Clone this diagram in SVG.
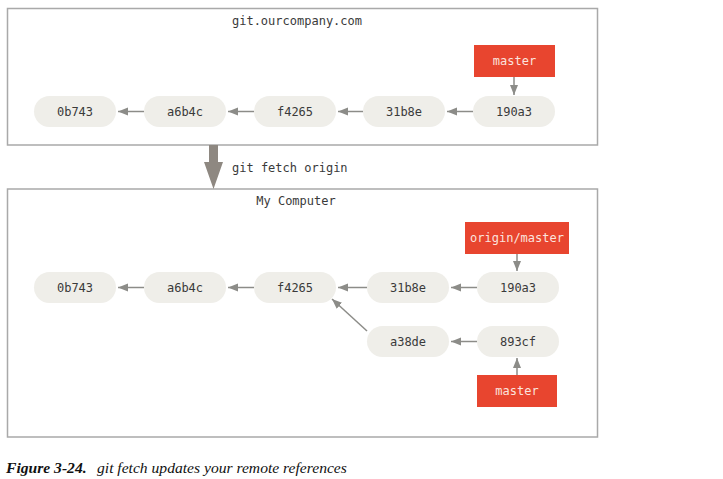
<svg xmlns="http://www.w3.org/2000/svg" width="723" height="479" viewBox="0 0 723 479">
<defs>
<style>
.frame{fill:#fff;stroke:#a9a9a9;stroke-width:1.5}
.commit rect{fill:#efeee9}
.commit text,.lbl{font-family:"DejaVu Sans Mono","Liberation Mono",monospace;font-size:12px;fill:#3a3a3a;text-anchor:middle}
.ref rect{fill:#e8452f}
.ref text{font-family:"DejaVu Sans Mono","Liberation Mono",monospace;font-size:12px;fill:#fbe3de;text-anchor:middle}
.conn line{stroke:#8c8c88;stroke-width:1.5;marker-end:url(#ah)}
.cap{font-family:"Liberation Serif","Times New Roman",serif;font-size:15.6px;font-style:italic;fill:#111}
</style>
<marker id="ah" markerUnits="userSpaceOnUse" markerWidth="11" markerHeight="9" refX="10" refY="4" orient="auto">
<path d="M0,0 L10,4 L0,8 z" fill="#8c8c88"/>
</marker>
</defs>
<rect width="723" height="479" fill="#fff"/>

<g id="remote">
<rect class="frame" x="7.5" y="8.5" width="590" height="136.5"/>
<text class="lbl" x="297" y="25">git.ourcompany.com</text>
</g>
<g id="local">
<rect class="frame" x="7.5" y="189" width="590" height="248"/>
<text class="lbl" x="296" y="205">My Computer</text>
</g>

<g id="fetch-arrow">
<polygon points="209,145 218,145 218,162 223,162 213.5,189 204,162 209,162" fill="#8e8881"/>
<text class="lbl" x="232" y="172" style="text-anchor:start">git fetch origin</text>
</g>

<g id="r-0b743" class="commit"><rect x="34" y="96" width="82" height="31" rx="15.5"/><text x="75" y="115.5">0b743</text></g>
<g id="r-a6b4c" class="commit"><rect x="144" y="96" width="82" height="31" rx="15.5"/><text x="185" y="115.5">a6b4c</text></g>
<g id="r-f4265" class="commit"><rect x="254" y="96" width="82" height="31" rx="15.5"/><text x="295" y="115.5">f4265</text></g>
<g id="r-31b8e" class="commit"><rect x="363" y="96" width="82" height="31" rx="15.5"/><text x="404" y="115.5">31b8e</text></g>
<g id="r-190a3" class="commit"><rect x="473" y="96" width="82" height="31" rx="15.5"/><text x="514" y="115.5">190a3</text></g>
<g id="r-master" class="ref"><rect x="474" y="45" width="81" height="32"/><text x="514.5" y="65">master</text></g>

<g id="l-0b743" class="commit"><rect x="34" y="272" width="82" height="31" rx="15.5"/><text x="75" y="291.5">0b743</text></g>
<g id="l-a6b4c" class="commit"><rect x="144" y="272" width="82" height="31" rx="15.5"/><text x="185" y="291.5">a6b4c</text></g>
<g id="l-f4265" class="commit"><rect x="254" y="272" width="82" height="31" rx="15.5"/><text x="295" y="291.5">f4265</text></g>
<g id="l-31b8e" class="commit"><rect x="367" y="272" width="82" height="31" rx="15.5"/><text x="408" y="291.5">31b8e</text></g>
<g id="l-190a3" class="commit"><rect x="477" y="272" width="82" height="31" rx="15.5"/><text x="518" y="291.5">190a3</text></g>
<g id="l-a38de" class="commit"><rect x="367" y="326" width="82" height="31" rx="15.5"/><text x="408" y="345.5">a38de</text></g>
<g id="l-893cf" class="commit"><rect x="477" y="326" width="82" height="31" rx="15.5"/><text x="518" y="345.5">893cf</text></g>
<g id="l-origin-master" class="ref"><rect x="465" y="222" width="104" height="32"/><text x="517" y="242">origin/master</text></g>
<g id="l-master" class="ref"><rect x="477" y="375" width="80" height="32"/><text x="517" y="395">master</text></g>

<g id="connectors" class="conn">
<line x1="144" y1="111.5" x2="118" y2="111.5"/>
<line x1="254" y1="111.5" x2="228" y2="111.5"/>
<line x1="363" y1="111.5" x2="338" y2="111.5"/>
<line x1="473" y1="111.5" x2="447" y2="111.5"/>
<line x1="514" y1="77" x2="514" y2="95"/>

<line x1="144" y1="287.5" x2="118" y2="287.5"/>
<line x1="254" y1="287.5" x2="228" y2="287.5"/>
<line x1="367" y1="287.5" x2="338" y2="287.5"/>
<line x1="477" y1="287.5" x2="451" y2="287.5"/>
<line x1="517" y1="254" x2="517" y2="271"/>
<line x1="477" y1="341.5" x2="451" y2="341.5"/>
<line x1="367" y1="331" x2="332" y2="299"/>
<line x1="517" y1="375" x2="517" y2="358"/>
</g>

<text class="cap" x="6" y="473"><tspan font-weight="bold">Figure 3-24.</tspan><tspan x="97">git fetch updates your remote references</tspan></text>
</svg>
